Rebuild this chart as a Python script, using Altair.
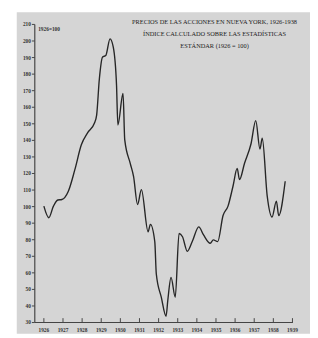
import altair as alt
import pandas as pd

years = [1926.0, 1926.26, 1926.5, 1926.73, 1926.94, 1927.28, 1927.62, 1927.96,
         1928.3, 1928.64, 1928.76, 1928.9, 1929.07, 1929.24, 1929.46, 1929.63,
         1929.8, 1929.87, 1930.14, 1930.23, 1930.52, 1930.69, 1930.9, 1931.1,
         1931.45, 1931.57, 1931.8, 1931.88, 1932.14, 1932.39, 1932.48, 1932.65,
         1932.87, 1933.07, 1933.25, 1933.5, 1933.76, 1934.1, 1934.35, 1934.7,
         1934.86, 1935.09, 1935.37, 1935.63, 1935.89, 1936.11, 1936.23, 1936.49,
         1936.83, 1937.08, 1937.3, 1937.42, 1937.68, 1937.93, 1938.16, 1938.28,
         1938.62]
index = [100, 93, 100, 103.7, 104, 109, 122, 137, 144.5, 150, 155, 176.6, 190,
         191, 201, 196, 173, 149, 168, 140, 125.7, 118, 101, 110, 84.5, 89, 78.6,
         59, 45, 33.5, 43, 57, 45, 83.5, 81.5, 72.7, 78.6, 87.5, 82.6, 77.6, 79.6,
         78.6, 94.3, 100, 112, 122.8, 116, 125.7, 137.5, 151.6, 134.5, 141, 106,
         93.4, 103, 94.3, 115]
tick_years = list(range(1926, 1940))
tick_labels = [str(y) for y in tick_years]
title_lines = ["PRECIOS DE LAS ACCIONES EN NUEVA YORK, 1926-1938",
               "ÍNDICE CALCULADO SOBRE LAS ESTADÍSTICAS",
               "ESTÁNDAR (1926 = 100)"]
unit_label = "1926=100"

W, H = 265, 306
df = pd.DataFrame({"year": years, "index": index})
ticks_df = pd.DataFrame({"year": tick_years, "label": tick_labels})

xs = alt.Scale(domain=[1925.5, 1939.0], nice=False)
ys = alt.Scale(domain=[30, 210], nice=False)

bg = alt.Chart(pd.DataFrame({"a": [0]})).mark_rect(color="#d5d5d5").encode(
    x=alt.value(-18), x2=alt.value(283), y=alt.value(-12), y2=alt.value(318))

line = alt.Chart(df).mark_line(color="#262626", strokeWidth=1.4,
                               interpolate="monotone").encode(
    x=alt.X("year:Q", scale=xs, axis=alt.Axis(
        values=tick_years, labels=False, ticks=False,
        title=None, domainColor="#444", domainWidth=1.2, zindex=1, grid=False)),
    y=alt.Y("index:Q", scale=ys, axis=alt.Axis(
        values=list(range(30, 211, 10)), title=None, tickSize=3, tickColor="#444",
        labelOverlap=False, domainColor="#444", domainWidth=1.2,
        labelFont="Liberation Sans Narrow", labelFontSize=5.5, labelFontWeight="bold",
        labelColor="#333", labelPadding=1, zindex=1, grid=False)),
)

xticks = alt.Chart(ticks_df).mark_rule(color="#444", strokeWidth=1).encode(
    x=alt.X("year:Q", scale=xs), y=alt.value(H - 4), y2=alt.value(H))

xlabels = alt.Chart(ticks_df).mark_text(
    font="Liberation Sans Narrow", fontSize=5.5, fontWeight="bold", color="#333",
    align="center", baseline="middle").encode(
    x=alt.X("year:Q", scale=xs), y=alt.value(H + 8), text="label:N")

tdf = pd.DataFrame({"t": title_lines, "i": [0, 1, 2]})
titles = alt.Chart(tdf).transform_calculate(py="-2 + datum.i * 12.5").mark_text(
    font="Liberation Serif", fontSize=6.5, color="#222", align="center",
    baseline="middle").encode(
    x=alt.value(185), y=alt.Y("py:Q", scale=None), text="t:N")

unit = alt.Chart(pd.DataFrame({"t": [unit_label]})).mark_text(
    font="Liberation Sans Narrow", fontSize=5.5, fontWeight="bold", color="#333",
    align="left", baseline="middle").encode(x=alt.value(4), y=alt.value(5), text="t:N")

chart = alt.layer(bg, xticks, line, xlabels, titles, unit).properties(
    width=W, height=H, background="white",
    padding={"left": 27, "top": 12, "right": 18, "bottom": 12},
    autosize=alt.AutoSizeParams(type="none"),
).configure_view(stroke=None)

chart.save("out.html", embed_options={"renderer": "svg", "actions": False})
